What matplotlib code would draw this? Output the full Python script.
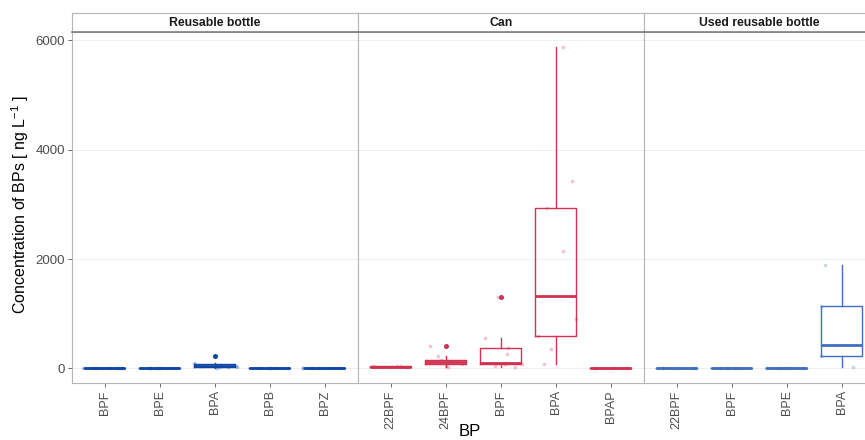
import numpy as np
import matplotlib
matplotlib.use("Agg")
import matplotlib.pyplot as plt

plt.rcParams["font.family"] = ["Liberation Sans", "DejaVu Sans"]
plt.rcParams["mathtext.fontset"] = "custom"
plt.rcParams["mathtext.rm"] = "Liberation Sans"
plt.rcParams["mathtext.it"] = "Liberation Sans:italic"
plt.rcParams["mathtext.bf"] = "Liberation Sans:bold"

# Concentrations (ng/L) per bisphenol, grouped by container type
bottle_labels = ["BPF", "BPE", "BPA", "BPB", "BPZ"]
bottle_bpf = [2, 3, 4, 5, 5, 6, 8, 10]
bottle_bpe = [1, 2, 3, 4, 5, 6, 7]
bottle_bpa = [15, 20, 25, 30, 40, 45, 50, 60, 85, 90, 233]
bottle_bpb = [1, 2, 3, 4, 5, 6]
bottle_bpz = [2, 3, 4, 5, 6, 7, 8]

can_labels = ["22BPF", "24BPF", "BPF", "BPA", "BPAP"]
can_22bpf = [20, 25, 28, 30, 32, 35, 40, 45]
can_24bpf = [25, 50, 75, 100, 110, 130, 150, 220, 400]
can_bpf = [20, 45, 70, 80, 90, 270, 373, 560, 1300]
can_bpa = [70, 350, 590, 910, 1330, 2150, 2940, 3420, 5880]
can_bpap = [3, 4, 5, 6, 7, 8]

used_labels = ["22BPF", "BPF", "BPE", "BPA"]
used_22bpf = [1, 2, 3, 4, 5]
used_bpf = [1, 2, 3, 4, 5]
used_bpe = [5, 8, 10, 12, 15]
used_bpa = [25, 220, 422, 1143, 1890]

y_ticks = [0, 2000, 4000, 6000]

panels = [
    ("Reusable bottle", bottle_labels,
     [bottle_bpf, bottle_bpe, bottle_bpa, bottle_bpb, bottle_bpz], "#0e46a6"),
    ("Can", can_labels,
     [can_22bpf, can_24bpf, can_bpf, can_bpa, can_bpap], "#d1324f"),
    ("Used reusable bottle", used_labels,
     [used_22bpf, used_bpf, used_bpe, used_bpa], "#3f6fc1"),
]

W, H = 865, 440
fig = plt.figure(figsize=(W / 100, H / 100), dpi=100)
fig.patch.set_facecolor("white")

unit_px = 55.0          # pixel width of one category slot
left_px = 71.7
top_px = 32.0
bottom_px = 383.3
strip_px = 18.7
border_col = "#b5b5b5"
rng = np.random.default_rng(7)

x0 = left_px
for i, (title, labels, groups, col) in enumerate(panels):
    n = len(labels)
    wpx = (n - 1 + 1.2) * unit_px
    ax = fig.add_axes([x0 / W, 1 - bottom_px / H, wpx / W, (bottom_px - top_px) / H])
    pos = np.arange(1, n + 1)

    ax.boxplot(groups, positions=pos, widths=0.75, whis=1.5,
               boxprops=dict(color=col, linewidth=1.0),
               medianprops=dict(color=col, linewidth=2.0),
               whiskerprops=dict(color=col, linewidth=1.0),
               capprops=dict(linewidth=0),
               flierprops=dict(marker="o", markersize=2.6, markerfacecolor=col,
                               markeredgecolor=col, linestyle="none"),
               manage_ticks=False, zorder=3)

    for p, vals in zip(pos, groups):
        jit = rng.uniform(-0.4, 0.4, len(vals))
        ax.scatter(p + jit, vals, s=7, color=col, alpha=0.28, linewidths=0, zorder=2)

    ax.set_xlim(0.4, n + 0.6)
    ax.set_ylim(-274, 6154)
    ax.set_xticks(pos)
    ax.set_xticklabels(labels, rotation=90, color="#4d4d4d", fontsize=9)
    ax.set_yticks(y_ticks)
    ax.grid(axis="y", color="#ececec", linewidth=0.6, zorder=0)
    ax.grid(axis="x", visible=False)
    ax.set_axisbelow(True)
    ax.tick_params(axis="both", length=3, width=0.6, color="#4d4d4d", pad=2)
    if i == 0:
        ax.set_yticklabels([str(t) for t in y_ticks], color="#4d4d4d", fontsize=9.5)
    else:
        ax.tick_params(axis="y", left=False, labelleft=False)
    for s in ax.spines.values():
        s.set_color(border_col)
        s.set_linewidth(0.8)

    # facet strip
    sax = fig.add_axes([x0 / W, 1 - top_px / H, wpx / W, strip_px / H])
    sax.set_facecolor("white")
    sax.set_xticks([])
    sax.set_yticks([])
    for s in sax.spines.values():
        s.set_color(border_col)
        s.set_linewidth(0.8)
    sax.spines["bottom"].set_color("#7f7f7f")
    sax.spines["bottom"].set_linewidth(1.2)
    sax.text(0.5, 0.5, title, transform=sax.transAxes, ha="center", va="center",
             fontsize=8.8, fontweight="bold", color="#1a1a1a")

    x0 += wpx

fig.text(20 / W, 1 - 205 / H, r"Concentration of BPs [ ng L$^{-1}$ ]", rotation=90,
         ha="center", va="center", fontsize=11.5, color="black")
fig.text(470 / W, 1 - 431 / H, "BP", ha="center", va="center", fontsize=12,
         color="black")

fig.savefig("out.png", dpi=100)
